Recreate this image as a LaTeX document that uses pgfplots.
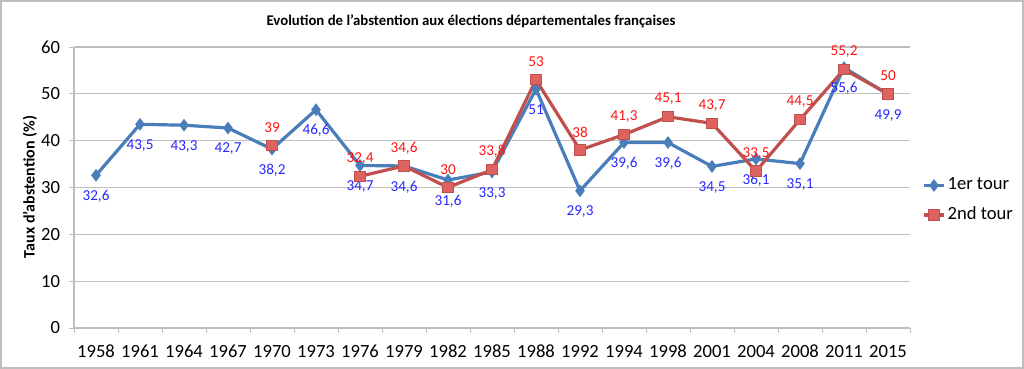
\documentclass[border=0pt]{standalone}
\usepackage{pgfplots}
\pgfplotsset{compat=1.18}
\usepackage{fontspec}
\setmainfont{Carlito}
\definecolor{serA}{RGB}{74,126,187}
\definecolor{serB}{RGB}{192,80,77}
\definecolor{serBfill}{RGB}{222,98,95}
\definecolor{labA}{RGB}{40,40,255}
\definecolor{labB}{RGB}{255,20,20}
\definecolor{gridc}{RGB}{190,190,190}
\begin{document}
\begin{tikzpicture}
\useasboundingbox (0,0) rectangle (512pt,184.5pt);
\draw[gridc, line width=0.8pt] (0.4pt,0.4pt) rectangle (511.6pt,184.1pt);
\begin{axis}[
  at={(37pt,20.5pt)}, anchor=south west,
  scale only axis, width=418pt, height=140.5pt,
  xmin=-0.5, xmax=18.5, ymin=0, ymax=60,
  xtick={0,...,18},
  xticklabels={1958,1961,1964,1967,1970,1973,1976,1979,1982,1985,1988,1992,1994,1998,2001,2004,2008,2011,2015},
  minor xtick={-0.5,0.5,...,18.5},
  ytick={0,10,...,60},
  major x tick style={draw=none},
  minor tick length=2.5pt, major tick length=2.5pt,
  tick align=outside, tick pos=left,
  every tick/.style={gridc},
  ymajorgrids, grid style={gridc, line width=0.6pt},
  axis x line*=bottom, axis y line*=left,
  axis line style={gridc, line width=0.6pt},
  ticklabel style={font=\fontsize{9.3}{11}\selectfont},
  /pgf/number format/assume math mode=true,
  /pgf/number format/use comma,
  xticklabel style={yshift=-2.5pt},
  yticklabel style={xshift=-1pt},
  unbounded coords=jump,
  legend style={at={(1.0,0.454)}, anchor=west, draw=none, fill=none,
    font=\fontsize{9.3}{11}\selectfont, row sep=3pt, xshift=3pt,
    /tikz/every even column/.append style={column sep=0pt},
    nodes={inner xsep=1pt}},
  legend cell align=left,
  legend image code/.code={
    \draw[#1, mark=none] (0pt,0pt) -- (10pt,0pt);
    \draw[#1, only marks] plot coordinates {(5pt,0pt)};
  },
]
\addplot[serA, line width=1.6pt, mark=diamond*, mark size=2.8pt,
  mark options={fill=serA, draw=serA, line width=0.5pt},
  nodes near coords, every node near coord/.style={font=\fontsize{7.6}{9}\selectfont, text=labA, anchor=center, yshift=-10.5pt}]
  table {
x y
0 32.6
1 43.5
2 43.3
3 42.7
4 38.2
5 46.6
6 34.7
7 34.6
8 31.6
9 33.3
10 51
11 29.3
12 39.6
13 39.6
14 34.5
15 36.1
16 35.1
17 55.6
18 49.9
};
\addlegendentry{1er tour}
\addplot[serB, line width=1.6pt, mark=square*, mark size=2.6pt,
  mark options={fill=serBfill, draw=serB, line width=0.5pt},
  nodes near coords, every node near coord/.style={font=\fontsize{7.6}{9}\selectfont, text=labB, anchor=center, yshift=9pt}]
  table {
x y
4 39
5 nan
6 32.4
7 34.6
8 30
9 33.8
10 53
11 38
12 41.3
13 45.1
14 43.7
15 33.5
16 44.5
17 55.2
18 50
};
\addlegendentry{2nd tour}
\end{axis}
\node[font=\bfseries\fontsize{7.4}{9}\selectfont] at (235.5pt,174pt) {Evolution de l'abstention aux élections départementales françaises};
\node[font=\bfseries\fontsize{8}{9.5}\selectfont, rotate=90] at (15pt,91pt) {Taux d'abstention (\%)};
\end{tikzpicture}
\end{document}
